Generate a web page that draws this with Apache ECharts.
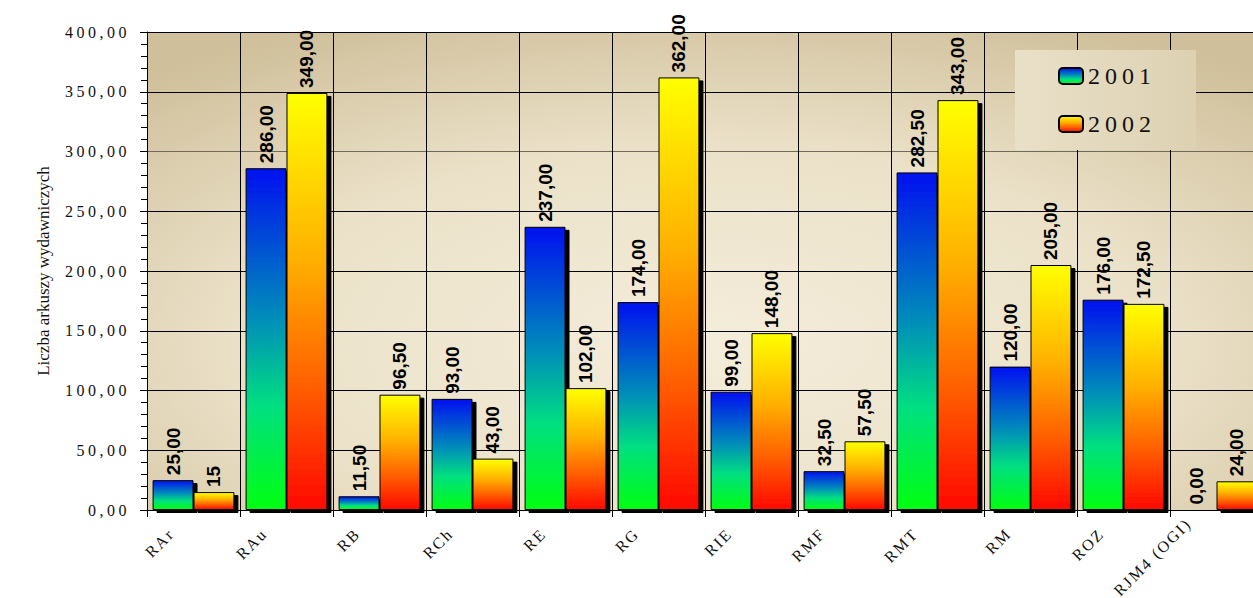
<!DOCTYPE html>
<html>
<head>
<meta charset="utf-8">
<script src="https://cdn.jsdelivr.net/npm/echarts@6/dist/echarts.min.js"></script>
<style>
html,body{margin:0;padding:0;background:#fff;}
#chart{width:1253px;height:598px;}
</style>
</head>
<body>
<div id="chart"></div>
<script>
const categories = ['RAr','RAu','RB','RCh','RE','RG','RIE','RMF','RMT','RM','ROZ','RJM4 (OGI)'];
const values2001 = [25, 286, 11.5, 93, 237, 174, 99, 32.5, 282.5, 120, 176, 0];
const values2002 = [15, 349, 96.5, 43, 102, 362, 148, 57.5, 343, 205, 172.5, 24];
const labels2001 = ['25,00','286,00','11,50','93,00','237,00','174,00','99,00','32,50','282,50','120,00','176,00','0,00'];
const labels2002 = ['15','349,00','96,50','43,00','102,00','362,00','148,00','57,50','343,00','205,00','172,50','24,00'];
const yTicks = [0, 50, 100, 150, 200, 250, 300, 350, 400];
const seriesNames = ['2001','2002'];
const yAxisTitle = 'Liczba arkuszy wydawniczych';

const serif = 'Liberation Serif';
const grad2001 = {type:'linear',x:0,y:0,x2:0,y2:1,colorStops:[
  {offset:0,color:'#0010f0'},{offset:0.45,color:'#0090b8'},{offset:0.7,color:'#00e080'},{offset:1,color:'#00ff10'}]};
const grad2002 = {type:'linear',x:0,y:0,x2:0,y2:1,colorStops:[
  {offset:0,color:'#ffff00'},{offset:0.4,color:'#ffb000'},{offset:0.7,color:'#ff6000'},{offset:1,color:'#ff0800'}]};

const chart = echarts.init(document.getElementById('chart'), null, {renderer:'svg'});
const option = {
  animation:false,
  grid:{left:147, top:32, width:1116, height:478, containLabel:false, outerBoundsMode:'none',
    show:true, borderWidth:0,
    backgroundColor:{type:'radial',x:0.5,y:0.65,r:0.75,colorStops:[
      {offset:0,color:'#f4eddb'},{offset:0.55,color:'#ebe1c8'},{offset:1,color:'#cfbf9a'}]}},
  legend:{
    data:seriesNames, orient:'vertical', left:1015, top:50,
    padding:[14,60,14,43], itemGap:24, itemWidth:24, itemHeight:16,
    backgroundColor:{type:'linear',x:0,y:0,x2:1,y2:0,colorStops:[
      {offset:0,color:'#e9e0c8'},{offset:1,color:'#ddd1b2'}]},
    textStyle:{fontFamily:serif, fontSize:24, color:'#111'}
  },
  xAxis:{
    type:'category', data:categories,
    axisLine:{lineStyle:{color:'#000', width:1}},
    axisTick:{show:true, length:7, lineStyle:{color:'#000'}},
    splitLine:{show:true, interval:0, lineStyle:{color:'#000', width:1}},
    axisLabel:{show:false}
  },
  yAxis:{
    type:'value', min:0, max:400, interval:50,
    name:yAxisTitle, nameLocation:'middle', nameGap:95,
    nameTextStyle:{fontFamily:serif, fontSize:17, color:'#111'},
    axisLine:{show:true, lineStyle:{color:'#000'}},
    axisTick:{show:true, length:7, lineStyle:{color:'#000'}},
    minorTick:{show:true, splitNumber:5, length:6, lineStyle:{color:'#000'}},
    splitLine:{show:true, lineStyle:{color:['#000','#000','#000','#000','#000','#000','#6e6a5e','#000','#000'], width:1}},
    axisLabel:{margin:17, fontFamily:serif, fontSize:16, color:'#111',
      formatter:function(v){return yTicks.indexOf(v)>=0 ? v.toFixed(2).replace('.',',') : '';}}
  },
  series:[
    {name:seriesNames[0], type:'bar', data:values2001, barGap:'0%', barCategoryGap:'12%',
     itemStyle:{color:grad2001, borderColor:'#000', borderWidth:1,
       shadowColor:'#000', shadowBlur:0, shadowOffsetX:4, shadowOffsetY:3},
     label:{show:true, position:'top', rotate:90, align:'left', verticalAlign:'middle', distance:5,
       fontFamily:'Liberation Sans', fontWeight:'bold', fontSize:19, color:'#000',
       formatter:function(p){return labels2001[p.dataIndex];}}},
    {name:seriesNames[1], type:'bar', data:values2002, barGap:'0%', barCategoryGap:'12%',
     itemStyle:{color:grad2002, borderColor:'#000', borderWidth:1,
       shadowColor:'#000', shadowBlur:0, shadowOffsetX:4, shadowOffsetY:3},
     label:{show:true, position:'top', rotate:90, align:'left', verticalAlign:'middle', distance:5,
       fontFamily:'Liberation Sans', fontWeight:'bold', fontSize:19, color:'#000',
       formatter:function(p){return labels2002[p.dataIndex];}}},
    {name:'categoryLabels', type:'custom', silent:true, clip:false, z:5,
     data:categories.map(function(c, i){ return [i, 0]; }),
     encode:{x:0, y:1},
     renderItem:function(params, api){
       const idx = api.value(0);
       const p = api.coord([idx, 0]);
       const name = categories[idx];
       const longName = name.length > 5;
       return {
         type:'text',
         x: p[0] + (longName ? -28 : -22),
         y: p[1] + (longName ? 11 : 21),
         rotation: Math.PI / 4,
         style:{text:name, align:'right', verticalAlign:'middle',
           fontFamily:serif, fontSize:16, fill:'#111'}
       };
     }}
  ]
};
chart.setOption(option);

// emulate the wide letter spacing of the serif texts
function spaceText(){
  document.querySelectorAll('#chart text').forEach(function(t){
    const s = (t.getAttribute('style')||'') + (t.getAttribute('font-family')||'') + (t.style.font||'');
    if (s.indexOf('Serif') >= 0) {
      const txt = t.textContent;
      let ls = '2px';
      if (/^\d+,\d\d$/.test(txt)) ls = '3.5px';
      else if (/^\d{4}$/.test(txt)) ls = '5px';
      else if (txt === yAxisTitle) ls = '0px';
      t.style.letterSpacing = ls;
    }
  });
}
spaceText();
chart.on('finished', spaceText);
</script>
</body>
</html>
